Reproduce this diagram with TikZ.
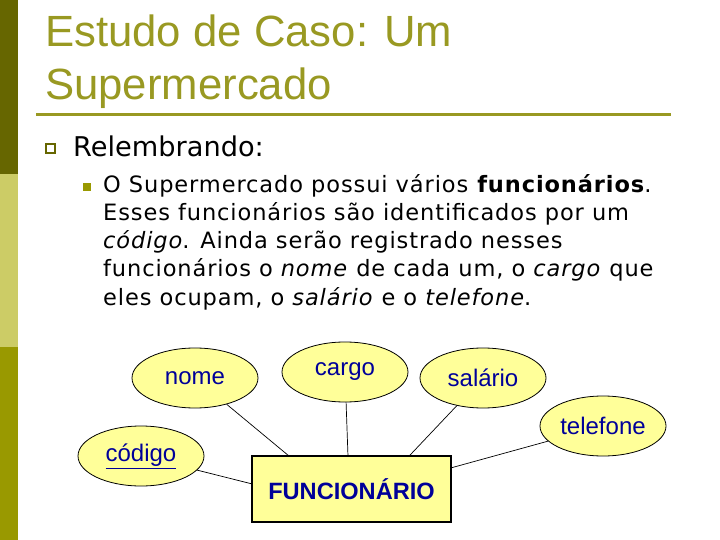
\documentclass[tikz,border=0pt]{standalone}
\usepackage{fontspec}
\setmainfont{DejaVu Sans}
\newfontfamily\arialfont{Liberation Sans}
\newfontfamily\spacedfont[LetterSpace=4]{DejaVu Sans}
\usetikzlibrary{shapes.geometric}
\definecolor{olivedark}{RGB}{102,102,0}
\definecolor{olivelight}{RGB}{204,204,102}
\definecolor{olivemid}{RGB}{153,153,0}
\definecolor{titleolive}{RGB}{153,153,34}
\definecolor{erfill}{RGB}{255,255,153}
\definecolor{erblue}{RGB}{0,0,153}

\begin{document}
\begin{tikzpicture}[x=1pt, y=-1pt,
    attr/.style={ellipse, draw=black, fill=erfill, line width=0.8pt,
      minimum width=126pt, minimum height=60pt, inner sep=0pt,
      font=\arialfont\fontsize{24}{28}\selectfont, text=erblue},
    entity/.style={rectangle, draw=black, fill=erfill, line width=1.3pt,
      minimum width=199pt, minimum height=66pt, inner sep=0pt,
      font=\arialfont\bfseries\fontsize{23.6}{28}\selectfont, text=erblue},
    link/.style={draw=black, line width=0.7pt}]
  \useasboundingbox (0,0) rectangle (720,540);

  % Left colour bar
  \fill[olivedark] (0,0) rectangle (18,174);
  \fill[olivelight] (0,174) rectangle (18,347);
  \fill[olivemid] (0,347) rectangle (18,540);

  % Title
  \node[anchor=base west, inner sep=0pt, text=titleolive,
    font=\arialfont\fontsize{43.7}{50}\selectfont] (title1) at (45,47) {Estudo de Caso: Um};
  \node[anchor=base west, inner sep=0pt, text=titleolive,
    font=\arialfont\fontsize{43.7}{50}\selectfont] (title2) at (45,100) {Supermercado};
  \draw[titleolive, line width=3pt] (36,115) -- (671,115);

  % Bullets
  \draw[olivedark, line width=2pt] (46,144) rectangle (55,153);
  \node[anchor=base west, inner sep=0pt, font=\fontsize{27.2}{32}\selectfont] (lvl1) at (73,157) {Relembrando:};
  \fill[olivemid] (83,183) rectangle (91,191);
  \node[anchor=base west, inner sep=0pt, align=left,
    font=\spacedfont\fontsize{22.5}{28.25}\selectfont] (lvl2) at (103,305)
    {O Supermercado possui vários \textbf{funcionários}.\\
     Esses funcionários são identificados por um\\
     \textit{código}. Ainda serão registrado nesses\\
     funcionários o \textit{nome} de cada um, o \textit{cargo} que\\
     eles ocupam, o \textit{salário} e o \textit{telefone}.};

  % ER diagram
  \node[entity] (func) at (351.5,489) {FUNCIONÁRIO};
  \node[attr] (nome) at (195,378) {nome};
  \node[attr] (cargo) at (345,372) {cargo};
  \node[attr] (salario) at (483,378) {salário};
  \node[attr] (telefone) at (603,426) {telefone};
  \node[attr] (codigo) at (141,456) {\underline{código}};

  \draw[link] (nome) -- (func.152.5);
  \draw[link] (cargo) -- (func.96);
  \draw[link] (salario) -- (func.30.3);
  \draw[link] (telefone) -- (func.12.5);
  \draw[link] (codigo) -- (func.177);
\end{tikzpicture}
\end{document}
